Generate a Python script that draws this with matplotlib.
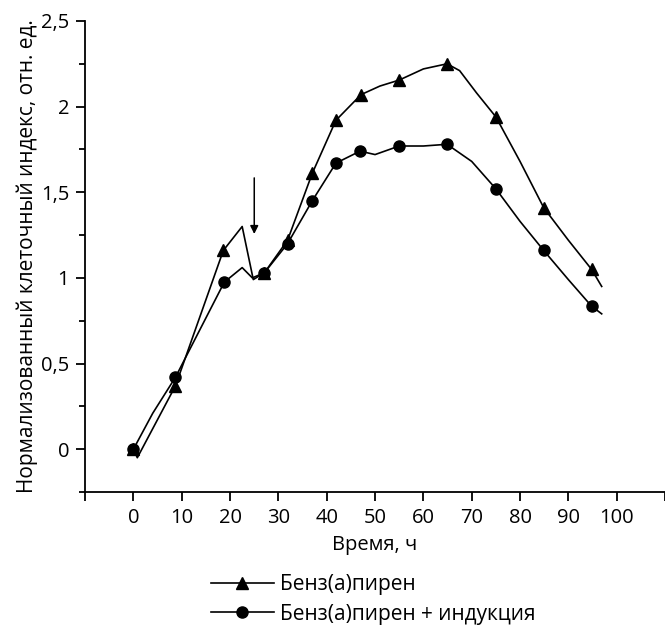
import matplotlib.pyplot as plt
from matplotlib.ticker import FixedLocator

plt.rcParams['font.family'] = ['Open Sans', 'DejaVu Sans']

# Data: curve points (hours, normalized cell index)
bap_x = [0, 0.8, 8.7, 18.6, 22.5, 24.8, 27.1, 31.9, 37, 41.9, 47.1, 51, 55, 60, 64.9, 67.5, 71, 75, 80, 84.9, 90, 94.8, 96.9]
bap_y = [0, -0.05, 0.37, 1.16, 1.30, 0.99, 1.03, 1.22, 1.61, 1.92, 2.07, 2.12, 2.155, 2.22, 2.25, 2.21, 2.08, 1.94, 1.68, 1.41, 1.22, 1.05, 0.95]
bap_marks = [0, 2, 3, 6, 7, 8, 9, 10, 12, 14, 17, 19, 21]

ind_x = [0, 4, 8.7, 18.8, 22.5, 24.6, 27.1, 31.9, 37, 41.9, 46.9, 50, 55, 60, 64.9, 70, 75, 80, 84.9, 90, 94.8, 96.9]
ind_y = [0, 0.21, 0.42, 0.975, 1.06, 1.0, 1.03, 1.20, 1.45, 1.67, 1.74, 1.72, 1.77, 1.77, 1.78, 1.68, 1.52, 1.33, 1.16, 0.99, 0.835, 0.79]
ind_marks = [0, 2, 3, 6, 7, 8, 9, 10, 12, 14, 16, 18, 20]

labels = ['Бенз(а)пирен', 'Бенз(а)пирен + индукция']
x_ticks = [-10, 0, 10, 20, 30, 40, 50, 60, 70, 80, 90, 100, 110]
x_tick_labels = ['', '0', '10', '20', '30', '40', '50', '60', '70', '80', '90', '100', '']
y_ticks = [0, 0.5, 1, 1.5, 2, 2.5]
y_tick_labels = ['0', '0,5', '1', '1,5', '2', '2,5']

fig = plt.figure(figsize=(6.65, 6.28), dpi=100)
ax = fig.add_axes([0.128, 0.2166, 0.872, 0.75])

ax.plot(bap_x, bap_y, color='black', lw=1.2, marker='^', markersize=8.5,
        markevery=bap_marks, label=labels[0])
ax.plot(ind_x, ind_y, color='black', lw=1.2, marker='o', markersize=8,
        markevery=ind_marks, label=labels[1])

# arrow marking the induction moment
ax.annotate('', xy=(25, 1.24), xytext=(25, 1.60),
            arrowprops=dict(arrowstyle='-|>', color='black', lw=1.1, mutation_scale=12))

ax.set_xlim(-10, 110)
ax.set_ylim(-0.25, 2.5)
ax.set_xticks(x_ticks)
ax.set_xticklabels(x_tick_labels)
ax.set_yticks(y_ticks)
ax.set_yticklabels(y_tick_labels)
ax.yaxis.set_minor_locator(FixedLocator([-0.25, 0.25, 0.75, 1.25, 1.75, 2.25]))

ax.spines['top'].set_visible(False)
ax.spines['right'].set_visible(False)
for s in ['left', 'bottom']:
    ax.spines[s].set_linewidth(1.3)
ax.tick_params(axis='both', which='both', direction='out', width=1.3, labelsize=14.5, color='black')
ax.tick_params(axis='both', which='major', length=6.5, pad=5)
ax.tick_params(axis='y', which='minor', length=4)

ax.set_xlabel('Время, ч', fontsize=14.5, labelpad=5)
ax.set_ylabel('Нормализованный клеточный индекс, отн. ед.', fontsize=15, labelpad=2)

fig.legend(loc='upper left', bbox_to_anchor=(0.302, 0.102), frameon=False,
           fontsize=15, handlelength=3.0, labelspacing=0.4, handletextpad=0.3,
           borderpad=0)

fig.savefig('out.png', dpi=100)
